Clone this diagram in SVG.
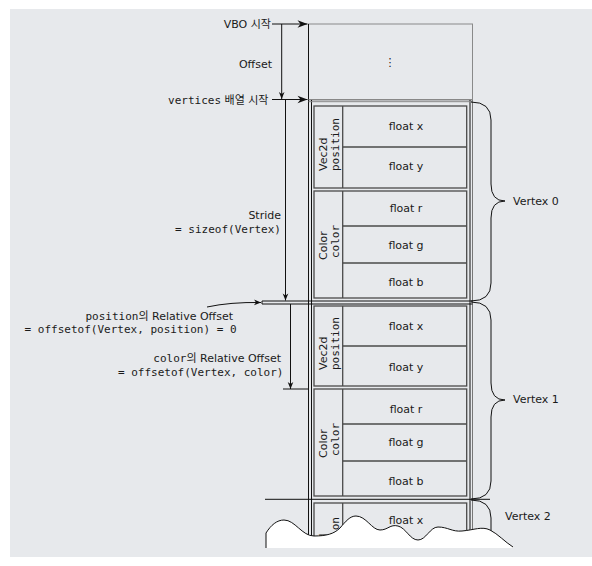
<svg xmlns="http://www.w3.org/2000/svg" width="592" height="566" viewBox="0 0 592 566">
<defs>
<style>
text{font-family:"DejaVu Sans","Noto Sans CJK KR",sans-serif;font-size:11px;fill:#1a1a1a}
.m{font-family:"DejaVu Sans Mono","Noto Sans CJK KR",monospace}
.e{text-anchor:end}
.c{text-anchor:middle}
.grp{fill:none;stroke:#4a4a4a;stroke-width:1.3}
.col{fill:none;stroke:#111;stroke-width:1}
.ln{fill:none;stroke:#111;stroke-width:1}
.gray{fill:none;stroke:#8a8a8a;stroke-width:1}
.brace{fill:none;stroke:#111;stroke-width:1}
</style>
<marker id="ah" viewBox="-11 -5 12 10" markerWidth="12" markerHeight="10" refX="0" refY="0" orient="auto" markerUnits="userSpaceOnUse"><path d="M0,0 L-10,-3.8 L-7,0 L-10,3.8 Z" fill="#111"/></marker>
<marker id="as" viewBox="-8 -4 9 8" markerWidth="9" markerHeight="8" refX="0" refY="0" orient="auto" markerUnits="userSpaceOnUse"><path d="M0,0 L-7,-2.8 L-5,0 L-7,2.8 Z" fill="#111"/></marker>
<clipPath id="clipBg"><rect x="10" y="9" width="582" height="538"/></clipPath>
</defs>
<rect x="10" y="9" width="582" height="548" fill="#e7e9ec"/>

<g id="vbo-top">
<rect x="308.5" y="24" width="164" height="76" class="gray"/>
<text x="390" y="66" class="c">⋮</text>
</g>

<g id="column">
<line x1="308.5" y1="24" x2="308.5" y2="548" class="col"/>
<line x1="311.5" y1="100" x2="311.5" y2="548" class="col"/>
<line x1="470" y1="100" x2="470" y2="548" class="col"/>
<line x1="472.5" y1="100" x2="472.5" y2="548" stroke="#777" stroke-width="1"/>
<line x1="308.5" y1="99.5" x2="472.5" y2="99.5" stroke="#888" stroke-width="1"/>
<line x1="308.5" y1="101.7" x2="472.5" y2="101.7" stroke="#888" stroke-width="1"/>
<line x1="262" y1="301" x2="472.5" y2="301" class="ln"/>
<line x1="262" y1="304" x2="472.5" y2="304" class="ln"/>
<line x1="262" y1="301" x2="262" y2="304" class="ln"/>
<line x1="265" y1="499.3" x2="490" y2="499.3" class="ln"/>
</g>

<g id="vertex0">
<rect x="314" y="106" width="152.7" height="82" class="grp"/>
<line x1="342.7" y1="106" x2="342.7" y2="188" class="grp"/>
<line x1="342.7" y1="147" x2="466.7" y2="147" class="grp"/>
<text transform="translate(327,171) rotate(-90)">Vec2d</text>
<text class="m" transform="translate(338.5,171) rotate(-90)">position</text>
<text x="406" y="130" class="c">float x</text>
<text x="406" y="170" class="c">float y</text>
<rect x="314" y="191" width="152.7" height="107" class="grp"/>
<line x1="342.7" y1="191" x2="342.7" y2="298" class="grp"/>
<line x1="342.7" y1="226" x2="466.7" y2="226" class="grp"/>
<line x1="342.7" y1="263" x2="466.7" y2="263" class="grp"/>
<text transform="translate(327,260) rotate(-90)">Color</text>
<text class="m" transform="translate(338.5,258) rotate(-90)">color</text>
<text x="406" y="212" class="c">float r</text>
<text x="406" y="249" class="c">float g</text>
<text x="406" y="286" class="c">float b</text>
</g>

<g id="vertex1">
<rect x="314" y="306" width="152.7" height="80" class="grp"/>
<line x1="342.7" y1="306" x2="342.7" y2="386" class="grp"/>
<line x1="342.7" y1="346" x2="466.7" y2="346" class="grp"/>
<text transform="translate(327,370) rotate(-90)">Vec2d</text>
<text class="m" transform="translate(338.5,370) rotate(-90)">position</text>
<text x="406" y="330" class="c">float x</text>
<text x="406" y="371" class="c">float y</text>
<rect x="314" y="389" width="152.7" height="107" class="grp"/>
<line x1="342.7" y1="389" x2="342.7" y2="496" class="grp"/>
<line x1="342.7" y1="424" x2="466.7" y2="424" class="grp"/>
<line x1="342.7" y1="461" x2="466.7" y2="461" class="grp"/>
<text transform="translate(327,458) rotate(-90)">Color</text>
<text class="m" transform="translate(338.5,456) rotate(-90)">color</text>
<text x="406" y="413" class="c">float r</text>
<text x="406" y="446" class="c">float g</text>
<text x="406" y="485" class="c">float b</text>
</g>

<g id="vertex2" clip-path="url(#clipBg)">
<rect x="314" y="503" width="152.7" height="80" class="grp"/>
<line x1="342.7" y1="503" x2="342.7" y2="583" class="grp"/>
<text transform="translate(327,567) rotate(-90)">Vec2d</text>
<text class="m" transform="translate(338.5,570) rotate(-90)">position</text>
<text x="406" y="524" class="c">float x</text>
</g>

<g id="braces">
<path class="brace" d="M471,102 Q491,102 491,120 L491,184 Q491,201 505,201 Q491,201 491,218 L491,283 Q491,301 471,301"/>
<path class="brace" d="M471,302 Q491,302 491,320 L491,383 Q491,400 505,400 Q491,400 491,417 L491,481 Q491,499 471,499"/>
<path class="brace" d="M471,500 Q491,500 491,518 L491,548"/>
</g>
<g id="vertex-labels">
<text x="513" y="205">Vertex 0</text>
<text x="513" y="403">Vertex 1</text>
<text x="505" y="520">Vertex 2</text>
</g>

<g id="connectors">
<line x1="272" y1="24" x2="307.5" y2="24" class="ln" marker-end="url(#ah)"/>
<line x1="272" y1="99.5" x2="307.5" y2="99.5" class="ln" marker-end="url(#ah)"/>
<line x1="281.7" y1="24" x2="281.7" y2="99" class="ln" marker-end="url(#as)"/>
<line x1="285.5" y1="100" x2="285.5" y2="300.5" class="ln" marker-end="url(#as)"/>
<line x1="290.5" y1="304" x2="290.5" y2="389" class="ln" marker-end="url(#as)"/>
<line x1="283" y1="389" x2="308.5" y2="389" class="ln"/>
<path d="M207,307 Q230,302 261,302.5" class="ln" marker-end="url(#as)"/>
</g>

<g id="labels">
<text x="271" y="28" class="e">VBO 시작</text>
<text x="272" y="67.5" class="e">Offset</text>
<text x="268.5" y="103.5" class="e"><tspan class="m">vertices</tspan> 배열 시작</text>
<text x="281" y="219" class="e">Stride</text>
<text x="281" y="233" class="e m">= sizeof(Vertex)</text>
<text x="233" y="319.5" class="e"><tspan class="m">position</tspan>의 Relative Offset</text>
<text x="236.5" y="333" class="e m">= offsetof(Vertex, position) = 0</text>
<text x="281" y="362" class="e"><tspan class="m">color</tspan>의 Relative Offset</text>
<text x="283.5" y="375.5" class="e m">= offsetof(Vertex, color)</text>
</g>

<g id="tear">
<path d="M266,548 L266,533 C271,525 277,520 284,520 C295,520 302,536 314,536 C326,536 334,534 340,528 C346,521 350,516 356,516 C366,516 372,530 380,530 C388,530 390,524 398,526 C406,528 410,540 418,540 C426,540 430,527 438,527 C448,527 452,532 462,531 C474,530 482,526 490,530 C498,534 505,542 513,547 L513,548 Z" fill="#fff" stroke="none"/>
<path d="M266,548 L266,533 C271,525 277,520 284,520 C295,520 302,536 314,536 C326,536 334,534 340,528 C346,521 350,516 356,516 C366,516 372,530 380,530 C388,530 390,524 398,526 C406,528 410,540 418,540 C426,540 430,527 438,527 C448,527 452,532 462,531 C474,530 482,526 490,530 C498,534 505,542 513,547" fill="none" stroke="#111" stroke-width="1"/>
</g>
</svg>
